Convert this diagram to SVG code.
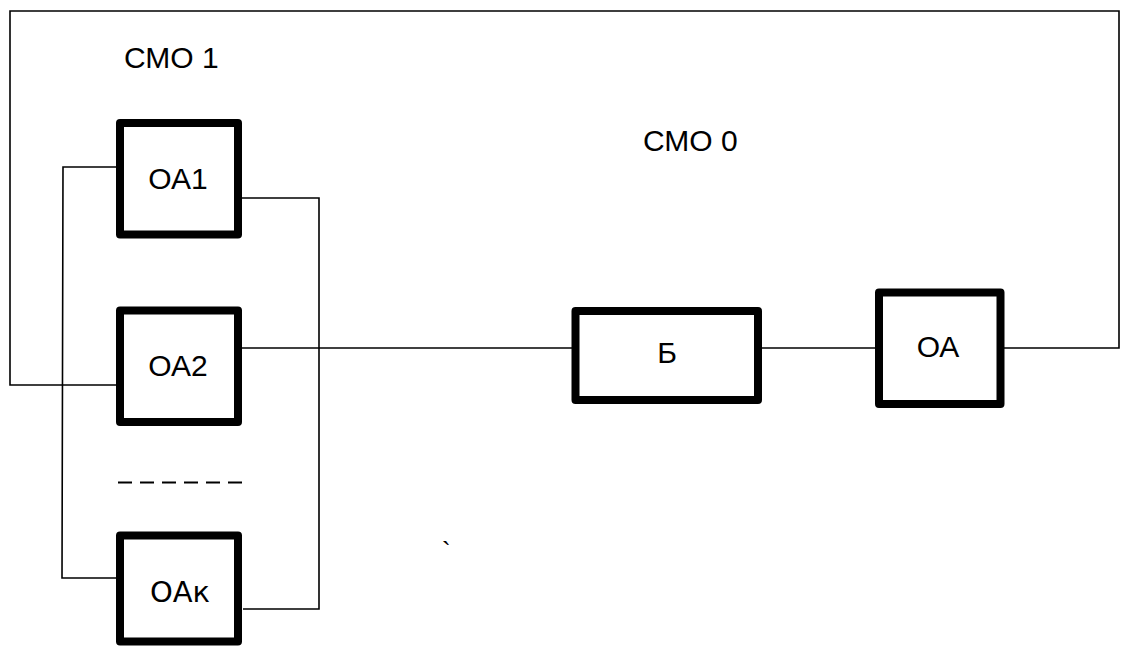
<svg xmlns="http://www.w3.org/2000/svg" width="1126" height="646" viewBox="0 0 1126 646">
<style>
.box{fill:#fff;stroke:#000;stroke-width:8;stroke-linejoin:round}
.ln{fill:none;stroke:#000;stroke-width:1.6}
.t{font-family:"Liberation Sans",Arial,sans-serif;font-size:30px;fill:#000}
.tc{font-family:"Liberation Sans",Arial,sans-serif;font-size:30px;fill:#000;text-anchor:middle}
</style>
<rect width="1126" height="646" fill="#fff"/>
<g id="connectors">
<polyline class="ln" points="116,385 10,385 10,11 1119,11 1119,348 1004,348"/>
<polyline class="ln" points="116,167 63,167 62,578 116,578"/>
<polyline class="ln" points="242,198 319,198 319,609 243,609"/>
<line class="ln" x1="242" y1="348" x2="572" y2="348"/>
<line class="ln" x1="762" y1="348" x2="875" y2="348"/>
<line x1="118" y1="482.5" x2="242" y2="482.5" stroke="#000" stroke-width="2" stroke-dasharray="14,8"/>
</g>
<g id="label-smo1"><text class="t" x="124" y="68">СМО 1</text></g>
<g id="label-smo0"><text class="t" x="643" y="151">СМО 0</text></g>
<g id="node-oa1"><rect class="box" x="120" y="123" width="118" height="111.5"/><text class="tc" x="178" y="189">ОА1</text></g>
<g id="node-oa2"><rect class="box" x="120" y="310.5" width="118" height="111.5"/><text class="tc" x="178" y="376">ОА2</text></g>
<g id="node-oak"><rect class="box" x="120" y="535.5" width="118" height="106"/><text class="tc" x="180" y="602" style="font-family:'DejaVu Sans',sans-serif;font-size:29px">ОАк</text></g>
<g id="node-b"><rect class="box" x="575.5" y="311" width="182.5" height="89"/><text class="tc" x="667" y="363">Б</text></g>
<g id="node-oa"><rect class="box" x="879" y="292.5" width="121.5" height="111.5"/><text class="tc" x="938" y="357">ОА</text></g>
<text class="t" x="442" y="560" style="font-size:26px">`</text>
</svg>
